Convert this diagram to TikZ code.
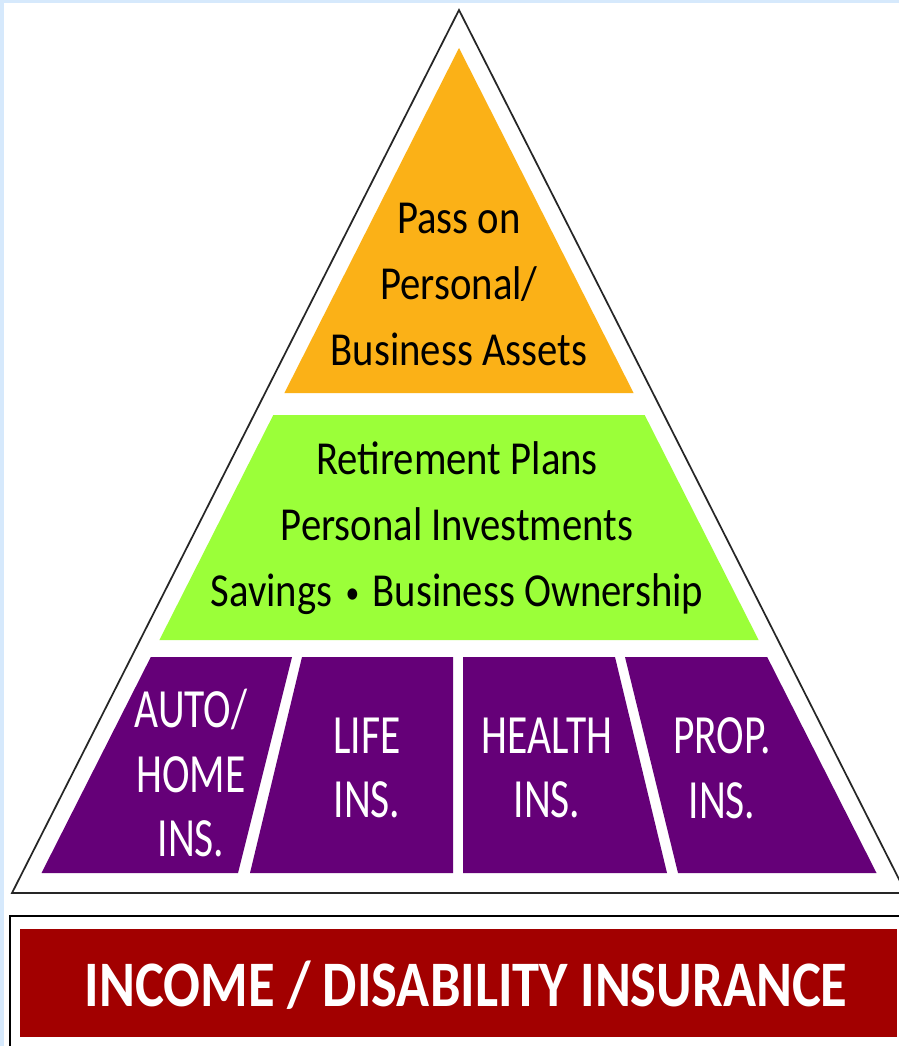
\documentclass[tikz,border=0pt]{standalone}
\usepackage{fontspec}
\newfontfamily\tierfont{Carlito}[FakeStretch=0.86]
\newfontfamily\insfont{Carlito}[FakeStretch=0.75]
\newfontfamily\basefont{Carlito}[FakeStretch=0.84]
\newcommand{\midsep}{\hspace{10pt}\raisebox{2.5pt}{\fontsize{24}{24}\selectfont\textbullet}\hspace{10pt}}
\begin{document}
\begin{tikzpicture}[x=0.75pt,y=-0.75pt,
  outline/.style={draw=black!85,line width=1.3pt,line join=miter},
  tiertext/.style={font=\tierfont\fontsize{35.5}{49.5}\selectfont,align=center,inner sep=0pt},
  instext/.style={font=\insfont\fontsize{41.5}{48.5}\selectfont,align=center,inner sep=0pt,text=white},
]
\definecolor{pageblue}{HTML}{D6E9FC}
\definecolor{tierorange}{HTML}{FBB117}
\definecolor{tiergreen}{HTML}{9BFF39}
\definecolor{tierpurple}{HTML}{650078}
\definecolor{basered}{HTML}{A20000}
% page frame
\useasboundingbox (0,0) rectangle (899,1046);
\fill[pageblue] (0,0) rectangle (899,1046);
\fill[white] (4,3) rectangle (899,1046);
\begin{scope}
\clip (4,3) rectangle (899,1046);
% outer triangle
\draw[outline] (459,10) -- (906,893) -- (12,893) -- cycle;
% top tier
\fill[tierorange] (459,48) -- (633.6,393) -- (284.4,393) -- cycle;
% middle tier
\fill[tiergreen] (273.3,415) -- (644.7,415) -- (758.6,640) -- (159.4,640) -- cycle;
% insurance blocks
\fill[tierpurple] (150.8,657) -- (292,657) -- (238,873) -- (41.5,873) -- cycle;
\fill[tierpurple] (302,657) -- (453,657) -- (453,873) -- (250,873) -- cycle;
\fill[tierpurple] (463,657) -- (615,657) -- (667,873) -- (463,873) -- cycle;
\fill[tierpurple] (625,657) -- (767.2,657) -- (876.5,873) -- (678,873) -- cycle;
% foundation
\draw[black,line width=2.2pt] (10,916) rectangle (920,1070);
\fill[basered] (20,929) rectangle (897,1037);
\end{scope}
% labels
\node[tiertext] (assets) at (459,284) {Pass on\\Personal/\\Business Assets};
\node[tiertext] (growth) at (457,528) {Retirement Plans\\Personal Investments\\Savings\midsep Business Ownership};
\node[instext] (auto) at (191,773) {AUTO/\\HOME\\INS.};
\node[instext] (life) at (367,768) {LIFE\\INS.};
\node[instext] (health) at (547,768) {HEALTH\\INS.};
\node[instext] (prop) at (722,768) {PROP.\\INS.};
\node[font=\basefont\bfseries\fontsize{48.7}{55}\selectfont,text=white,inner sep=0pt] (income) at (466,985) {INCOME / DISABILITY INSURANCE};
\end{tikzpicture}
\end{document}
